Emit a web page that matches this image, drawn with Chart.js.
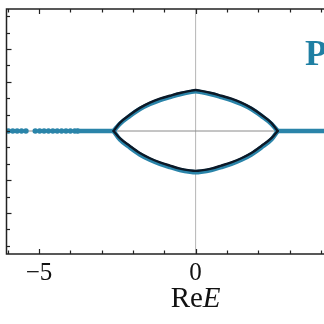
<!DOCTYPE html>
<html>
<head>
<meta charset="utf-8">
<script src="https://cdn.jsdelivr.net/npm/chart.js@4"></script>
<style>
  html, body { margin: 0; padding: 0; background: #fff; overflow: hidden; }
  #wrap { width: 324px; height: 324px; }
</style>
</head>
<body>
<div id="wrap"><canvas id="spectrum"></canvas></div>
<script>
// === DATA ===
const xTickLabels = { "-5": "\u22125", "0": "0" };

// real branch, left and right of the loop
const realLeftX = [-3.77, -2.62];
const realLeftY = [0, 0];
const realRightX = [2.62, 4.2];
const realRightY = [0, 0];

// scattered eigenvalues on the far left
const dotsX = [-5.98, -5.84, -5.70, -5.56, -5.42, -5.12, -4.98, -4.84, -4.70, -4.56, -4.42, -4.28, -4.14, -4.00, -3.86, -3.77];
const dotsY = [0, 0, 0, 0, 0, 0, 0, 0, 0, 0, 0, 0, 0, 0, 0, 0];

// loop
const loopX = [-2.62, -2.42, -2.10, -1.78, -1.46, -1.14, -0.82, -0.50, -0.18, 0, 0.18, 0.50, 0.82, 1.14, 1.46, 1.78, 2.10, 2.42, 2.62];
const blueUpper = [0, 0.044, 0.092, 0.134, 0.165, 0.189, 0.207, 0.224, 0.237, 0.242, 0.237, 0.224, 0.207, 0.189, 0.165, 0.134, 0.092, 0.044, 0];
const blueLower = [0, -0.052, -0.100, -0.143, -0.175, -0.200, -0.220, -0.238, -0.249, -0.252, -0.249, -0.238, -0.220, -0.200, -0.175, -0.143, -0.100, -0.052, 0];
const blackUpper = [0, 0.050, 0.099, 0.141, 0.173, 0.197, 0.215, 0.232, 0.245, 0.250, 0.245, 0.232, 0.215, 0.197, 0.173, 0.141, 0.099, 0.050, 0];
const blackLower = [0, -0.044, -0.091, -0.134, -0.166, -0.191, -0.211, -0.229, -0.240, -0.243, -0.240, -0.229, -0.211, -0.191, -0.166, -0.134, -0.091, -0.044, 0];

const BLUE = "#2a84a9";
const DARK = "#0c1826";

const pts = (xs, ys) => xs.map((x, i) => ({ x: x, y: ys[i] }));

function lineSet(xs, ys, color, width, order) {
  return {
    data: pts(xs, ys),
    showLine: true,
    borderColor: color,
    borderWidth: width,
    pointRadius: 0,
    cubicInterpolationMode: "monotone",
    borderCapStyle: "round",
    order: order
  };
}

// frame, inward ticks, zero lines, axis title
const framePlugin = {
  id: "frame",
  beforeDatasetsDraw(chart) {
    const { ctx, chartArea: a, scales: { x, y } } = chart;
    ctx.save();
    ctx.lineWidth = 1;
    ctx.strokeStyle = "#b5b5b5";
    ctx.beginPath();
    ctx.moveTo(x.getPixelForValue(0), a.top);
    ctx.lineTo(x.getPixelForValue(0), a.bottom);
    ctx.stroke();
    ctx.strokeStyle = "#8a8a8a";
    ctx.beginPath();
    ctx.moveTo(a.left, y.getPixelForValue(0));
    ctx.lineTo(a.right, y.getPixelForValue(0));
    ctx.stroke();
    ctx.restore();
  },
  afterDraw(chart) {
    const { ctx, chartArea: a, scales: { x, y } } = chart;
    ctx.save();
    ctx.strokeStyle = "#222";
    ctx.lineWidth = 1.5;
    ctx.beginPath();
    ctx.moveTo(a.right + 2, a.top);
    ctx.lineTo(a.left, a.top);
    ctx.lineTo(a.left, a.bottom);
    ctx.lineTo(a.right + 2, a.bottom);
    ctx.stroke();

    ctx.lineWidth = 1.2;
    for (let v = -6; v <= 4; v++) {
      const px = Math.round(x.getPixelForValue(v)) + 0.5;
      const len = v % 5 === 0 ? 5 : 3.5;
      ctx.beginPath();
      ctx.moveTo(px, a.bottom);
      ctx.lineTo(px, a.bottom - len);
      ctx.moveTo(px, a.top);
      ctx.lineTo(px, a.top + len);
      ctx.stroke();
    }
    for (let k = -7; k <= 7; k++) {
      const py = Math.round(y.getPixelForValue(k / 10)) + 0.5;
      const len = Math.abs(k) % 2 === 1 && Math.abs(k) >= 3 && Math.abs(k) <= 5 ? 5 : 3.5;
      ctx.beginPath();
      ctx.moveTo(a.left, py);
      ctx.lineTo(a.left + len, py);
      ctx.stroke();
    }

    // axis title: Re E
    ctx.fillStyle = "#111";
    ctx.textBaseline = "alphabetic";
    const base = 307;
    const f = "29px 'Liberation Serif', serif";
    ctx.font = f;
    const w1 = ctx.measureText("Re").width;
    ctx.font = "italic " + f;
    const w2 = ctx.measureText("E").width;
    const cx = x.getPixelForValue(0);
    let left = cx - (w1 + w2) / 2;
    ctx.font = f;
    ctx.fillText("Re", left, base);
    ctx.font = "italic " + f;
    ctx.fillText("E", left + w1, base);

    // panel label
    ctx.fillStyle = "#1f7fa3";
    ctx.font = "bold 36px 'Liberation Serif', serif";
    ctx.fillText("P", 305, 65);
    ctx.restore();
  }
};

new Chart(document.getElementById("spectrum"), {
  type: "scatter",
  data: {
    datasets: [
      lineSet(loopX, blackUpper, DARK, 2.4, 0),
      lineSet(loopX, blackLower, DARK, 2.4, 0),
      lineSet(realLeftX, realLeftY, BLUE, 4.5, 1),
      lineSet(realRightX, realRightY, BLUE, 4.5, 1),
      lineSet(loopX, blueUpper, BLUE, 4.5, 1),
      lineSet(loopX, blueLower, BLUE, 4.5, 1),
      {
        data: pts(dotsX, dotsY),
        pointRadius: 2.8,
        pointBorderWidth: 0,
        backgroundColor: BLUE,
        pointBackgroundColor: BLUE,
        order: 2
      }
    ]
  },
  options: {
    responsive: true,
    maintainAspectRatio: false,
    animation: false,
    layout: { autoPadding: false, padding: { left: 0, right: 0, top: 9, bottom: 0 } },
    plugins: { legend: { display: false }, tooltip: { enabled: false } },
    scales: {
      x: {
        type: "linear",
        min: -6.04,
        max: 4.1,
        grid: { display: false, drawTicks: false },
        border: { display: false },
        afterFit: (s) => { s.height = 70; s.paddingLeft = 0; s.paddingRight = 0; },
        ticks: {
          stepSize: 1,
          autoSkip: false,
          maxRotation: 0,
          padding: 4,
          color: "#111",
          font: { family: "'Liberation Serif', serif", size: 25 },
          callback: (v) => xTickLabels[String(v)] || ""
        }
      },
      y: {
        type: "linear",
        min: -0.75,
        max: 0.744,
        grid: { display: false, drawTicks: false },
        border: { display: false },
        afterFit: (s) => { s.width = 6.5; },
        ticks: { display: false }
      }
    }
  },
  plugins: [framePlugin]
});
</script>
</body>
</html>
